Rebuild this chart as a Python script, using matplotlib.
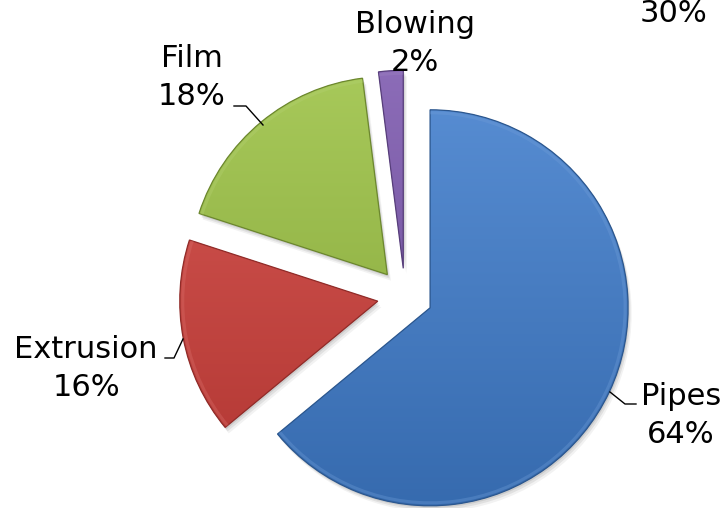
import numpy as np
import matplotlib
matplotlib.use("Agg")
import matplotlib.pyplot as plt
from matplotlib.patches import Wedge
from matplotlib.colors import to_rgb

# Market share by application
categories = ["Pipes", "Extrusion", "Film", "Blowing"]
shares = [64, 16, 18, 2]
base_colors = ["#3F7CCB", "#CE3F3A", "#9BC143", "#7C58AE"]
stray_label = "30%"

W, H = 726, 508
fig = plt.figure(figsize=(W / 100, H / 100), dpi=100)
ax = fig.add_axes([0, 0, 1, 1])

cx, cy, R = 405, H - 296, 198
# pie() offsets exploded slices in data units, so scale by the radius
explode = [0.14 * R] * len(shares)

wedges, _ = ax.pie(shares, radius=R, center=(cx, cy), startangle=90,
                   counterclock=False, explode=explode, colors=base_colors,
                   wedgeprops=dict(linewidth=0), frame=True)

ax.set_xlim(0, W)
ax.set_ylim(0, H)
ax.set_aspect("equal")
ax.axis("off")


def mix(c, other, t):
    c = np.array(to_rgb(c))
    o = np.array(to_rgb(other))
    return c * (1 - t) + o * t


# soft drop shadow behind every slice
for w in wedges:
    for k, a in [(6, 0.05), (4, 0.07), (2, 0.09)]:
        s = Wedge((w.center[0] + k * 0.6, w.center[1] - k), w.r, w.theta1, w.theta2,
                  facecolor="#000000", alpha=a, linewidth=0, zorder=0.5)
        ax.add_patch(s)

# vertical gradient fill clipped to each slice
for w, col in zip(wedges, base_colors):
    w.set_zorder(1)
    top = mix(col, "white", 0.12)
    bot = mix(col, "black", 0.14)
    n = 256
    t = np.linspace(0, 1, n)[:, None]
    grad = top[None, :] * (1 - t[..., None]) + bot[None, :] * t[..., None]
    grad = np.repeat(grad, 2, axis=1)
    x0, y0 = w.center
    im = ax.imshow(grad, extent=(x0 - w.r, x0 + w.r, y0 - w.r, y0 + w.r),
                   origin="upper", aspect="auto", zorder=2, interpolation="bilinear")
    im.set_clip_path(w)
    edge = Wedge(w.center, w.r, w.theta1, w.theta2, facecolor="none",
                 edgecolor=mix(col, "black", 0.3), linewidth=0.9, zorder=3)
    ax.add_patch(edge)
    rim = Wedge(w.center, w.r - 1.5, w.theta1, w.theta2, width=3,
                facecolor=mix(col, "white", 0.25), alpha=0.35, linewidth=0, zorder=3)
    ax.add_patch(rim)

ax.set_xlim(0, W)
ax.set_ylim(0, H)

# label layout: (centre x, baseline y of first line) in pixel coordinates
label_pos = {
    "Pipes": (681, 405),
    "Extrusion": (86, 358),
    "Film": (192, 67),
    "Blowing": (415, 33),
}
line_gap = 38
font = dict(fontsize=22, family="DejaVu Sans", color="#000000", ha="center", va="baseline")

for name, val in zip(categories, shares):
    x, y = label_pos[name]
    ax.text(x, H - y, name, zorder=5, **font)
    ax.text(x, H - y - line_gap, f"{val}%", zorder=5, **font)

ax.text(674, H - 22, stray_label, zorder=5, **font)

# leader lines
leaders = {
    "Film": [(234, 106), (246, 106), (263, 125)],
    "Extrusion": [(165, 358), (174, 358), (183, 339)],
    "Pipes": [(610, 392), (625, 404), (636, 404)],
}
for pts in leaders.values():
    xs = [p[0] for p in pts]
    ys = [H - p[1] for p in pts]
    ax.plot(xs, ys, color="#000000", linewidth=1.0, zorder=4)

fig.savefig("out.png", dpi=100)
